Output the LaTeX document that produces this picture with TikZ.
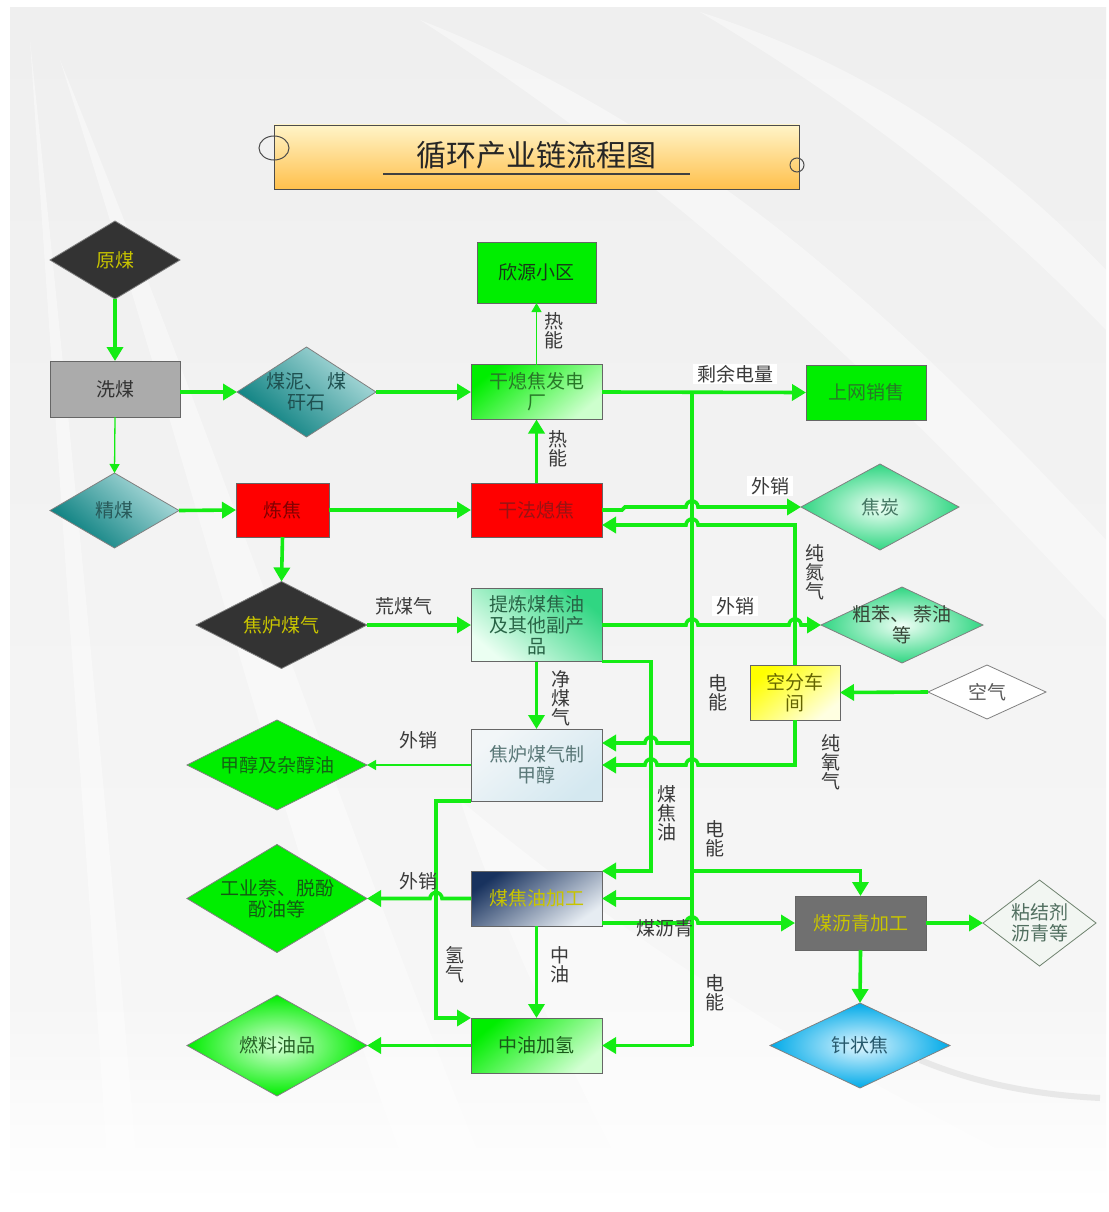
\documentclass[tikz,border=0pt]{standalone}
\usepackage{fontspec}
\newfontfamily\cjk{Noto Sans CJK SC}
\usetikzlibrary{shapes.geometric,arrows.meta,calc}

\definecolor{lgreen}{RGB}{20,236,20}
\definecolor{bggray}{RGB}{239,239,239}
\definecolor{bglight}{RGB}{246,246,246}
\definecolor{darkfill}{RGB}{51,51,51}
\definecolor{goldtext}{RGB}{200,196,0}
\definecolor{tealdark}{RGB}{0,122,122}
\definecolor{teallight}{RGB}{178,222,222}
\definecolor{pure}{RGB}{0,238,0}
\definecolor{mint}{RGB}{48,214,130}
\definecolor{navy}{RGB}{24,50,94}
\definecolor{labeltext}{RGB}{58,58,58}

\newcommand\nodefont{\cjk\fontsize{19}{21}\selectfont}

\tikzset{
  box/.style={rectangle, draw=black!60, line width=0.9pt, inner sep=0pt, outer sep=0pt,
              font=\nodefont, align=center},
  dia/.style={diamond, draw=black!50, line width=0.8pt, inner sep=0pt, outer sep=0pt},
  dtext/.style={font=\nodefont, align=center, inner sep=0pt},
  flow/.style={draw=lgreen, line width=3.6pt, line join=miter,
               -{Triangle[length=14pt,width=16pt]}},
  thinflow/.style={draw=lgreen, line width=1.3pt, -{Triangle[length=9pt,width=10pt]}},
  bus/.style={draw=lgreen, line width=3.6pt},
  lbl/.style={font=\nodefont, text=labeltext, align=center, inner sep=1pt},
  stack/.style={lbl, font=\cjk\fontsize{19}{19}\selectfont},
}

\begin{document}
\begin{tikzpicture}[x=1pt, y=-1pt]
\useasboundingbox (0,0) rectangle (1108,1212);

% ---------- backdrop with soft swooshes ----------
\fill[white] (0,0) rectangle (1108,1212);
\shade[top color=bggray, bottom color=bglight] (10,8) rectangle (1106,1000);
\shade[top color=bglight, bottom color=white] (10,1000) rectangle (1106,1204);
\begin{scope}[white, opacity=0.4]
  \fill (30,40) .. controls (60,500) and (90,900) .. (110,1204) -- (140,1204)
        .. controls (115,900) and (78,500) .. (30,40) -- cycle;
  \fill (60,60) .. controls (200,500) and (300,900) .. (420,1204) -- (500,1204)
        .. controls (370,900) and (240,500) .. (60,60) -- cycle;
  \fill (420,20) .. controls (700,200) and (900,400) .. (1106,620) -- (1106,540)
        .. controls (900,320) and (700,130) .. (420,20) -- cycle;
  \fill (700,12) .. controls (880,120) and (1000,220) .. (1106,330) -- (1106,270)
        .. controls (1000,160) and (880,70) .. (700,12) -- cycle;
  \fill (460,800) .. controls (700,1000) and (900,1100) .. (1106,1204) -- (640,1204)
        .. controls (560,1050) and (500,920) .. (460,800) -- cycle;
\end{scope}
\draw[black!9, line width=6pt] (920,1060) .. controls (980,1085) and (1040,1095) .. (1100,1098);

% ---------- title banner ----------
\node[rectangle, draw=black!70, line width=0.9pt, minimum width=525pt, minimum height=64pt,
      top color={rgb,255:red,255;green,244;blue,200}, bottom color={rgb,255:red,255;green,192;blue,76}]
      (title) at (536.5,157) {};
\node[font=\cjk\fontsize{30}{32}\selectfont, text=black!85] (titletext) at (536.5,155) {循环产业链流程图};
\draw[black!75, line width=1.4pt] (383,174) -- (690,174);
\draw[black!70, line width=1pt] (274,148) ellipse [x radius=15pt, y radius=12pt];
\draw[black!70, line width=1pt] (797,165) circle [radius=7pt];

% ---------- left column ----------
\node[dia, fill=darkfill, minimum width=130pt, minimum height=78pt,
      label={[dtext, text=goldtext]center:原煤}] (yuanmei) at (115,260) {};
\node[box, fill=black!33, text=black!80, minimum width=130pt, minimum height=56pt] (ximei) at (115,389) {洗煤};
\node[dia, top color=teallight, bottom color=tealdark, shading angle=-40,
      minimum width=139pt, minimum height=90pt,
      label={[dtext, text={rgb,255:red,30;green,80;blue,80}]center:煤泥、\,煤\\矸石}] (meini) at (306.5,392) {};
\node[dia, top color=teallight, bottom color=tealdark, shading angle=-40,
      minimum width=129pt, minimum height=75pt,
      label={[dtext, text={rgb,255:red,40;green,90;blue,90}]center:精煤}] (jingmei) at (114.5,510.5) {};
\node[box, fill=red, text={rgb,255:red,130;green,0;blue,0}, minimum width=93pt, minimum height=54pt] (lianjiao) at (282.5,510) {炼焦};
\node[dia, fill=darkfill, minimum width=171pt, minimum height=87pt,
      label={[dtext, text=goldtext]center:焦炉煤气}] (jlmq) at (281.5,625) {};
\node[dia, fill=pure, minimum width=180pt, minimum height=90pt,
      label={[dtext, text={rgb,255:red,20;green,100;blue,20}]center:甲醇及杂醇油}] (jcz) at (277,765) {};
\node[dia, fill=pure, minimum width=180pt, minimum height=108pt,
      label={[dtext, text={rgb,255:red,20;green,90;blue,20}]center:工业萘、脱酚\\酚油等}] (gyn) at (277,898.5) {};
\node[dia, inner color={rgb,255:red,215;green,255;blue,215}, outer color=pure,
      minimum width=180pt, minimum height=101pt,
      label={[dtext, text={rgb,255:red,40;green,100;blue,40}]center:燃料油品}] (rlyp) at (277,1045.5) {};

% ---------- centre column ----------
\node[box, fill=pure, text={rgb,255:red,25;green,55;blue,25}, minimum width=119pt, minimum height=61pt] (xinyuan) at (536.5,272.5) {欣源小区};
\node[box, top color=pure, bottom color={rgb,255:red,205;green,255;blue,205}, shading angle=40,
      text={rgb,255:red,40;green,120;blue,40}, minimum width=131pt, minimum height=55pt] (gxfd) at (536.5,392) {干熄焦发电\\厂};
\node[box, fill=red, text={rgb,255:red,150;green,20;blue,20}, minimum width=131pt, minimum height=54pt] (gfxj) at (536.5,510) {干法熄焦};
\node[box, top color=mint, bottom color={rgb,255:red,235;green,255;blue,242}, shading angle=-40,
      text={rgb,255:red,40;green,100;blue,70}, minimum width=131pt, minimum height=73pt] (tiliang) at (536.5,625) {提炼煤焦油\\及其他副产\\品};
\node[box, top color={rgb,255:red,242;green,246;blue,248}, bottom color={rgb,255:red,212;green,232;blue,240}, shading angle=40,
      text={rgb,255:red,90;green,120;blue,120}, minimum width=131pt, minimum height=72pt] (jiachun) at (536.5,765) {焦炉煤气制\\甲醇};
\node[box, top color=navy, bottom color={rgb,255:red,230;green,236;blue,242}, shading angle=35,
      text=goldtext, minimum width=131pt, minimum height=55pt] (mjyjg) at (536.5,898.5) {煤焦油加工};
\node[box, top color=pure, bottom color={rgb,255:red,210;green,255;blue,210}, shading angle=40,
      text={rgb,255:red,25;green,90;blue,25}, minimum width=131pt, minimum height=55pt] (zyjq) at (536.5,1045.5) {中油加氢};

% ---------- right column ----------
\node[box, fill=pure, text={rgb,255:red,40;green,120;blue,40}, minimum width=120pt, minimum height=55pt] (swxs) at (866,392.5) {上网销售};
\node[dia, inner color={rgb,255:red,240;green,255;blue,246}, outer color=mint,
      minimum width=158pt, minimum height=86pt,
      label={[dtext, text={rgb,255:red,70;green,120;blue,100}]center:焦炭}] (jiaotan) at (880,507) {};
\node[dia, inner color={rgb,255:red,240;green,255;blue,246}, outer color=mint,
      minimum width=162pt, minimum height=76pt,
      label={[dtext, text={rgb,255:red,55;green,70;blue,55}]center:粗苯、\,萘油\\等}] (cuben) at (902,625) {};
\node[box, top color=yellow, bottom color={rgb,255:red,255;green,255;blue,225}, shading angle=40,
      text={rgb,255:red,100;green,100;blue,0}, minimum width=90pt, minimum height=55pt] (kongfen) at (795,692.5) {空分车\\间};
\node[dia, fill=white, minimum width=118pt, minimum height=54pt,
      label={[dtext, text=black!65]center:空气}] (kongqi) at (987,692) {};
\node[box, fill=black!56, text=goldtext, minimum width=131pt, minimum height=54pt] (mlq) at (860.5,923) {煤沥青加工};
\node[dia, fill={rgb,255:red,242;green,246;blue,242}, draw={rgb,255:red,110;green,130;blue,110},
      minimum width=113pt, minimum height=86pt,
      label={[dtext, text={rgb,255:red,80;green,110;blue,95}]center:粘结剂\\沥青等}] (njj) at (1039.5,923) {};
\node[dia, inner color={rgb,255:red,225;green,246;blue,255}, outer color={rgb,255:red,0;green,170;blue,232},
      minimum width=180pt, minimum height=85pt,
      label={[dtext, text={rgb,255:red,40;green,90;blue,110}]center:针状焦}] (zzj) at (860,1045.5) {};

% ---------- taps on the power bus ----------
\coordinate (busTop) at (692,392);
\coordinate (busMeth) at (692,743);
\coordinate (busPitch) at (692,871);
\coordinate (busTar) at (692,898.5);
\coordinate (busBot) at (692,1045.5);

% ---------- connectors ----------
\draw[flow] (yuanmei.south) -- (ximei.north);
\draw[flow] (ximei.east |- meini.west) -- (meini.west);
\draw[thinflow] (ximei.south) -- (jingmei.north);
\draw[flow] (meini.east) -- (gxfd.west);
\draw[thinflow] (gxfd.north) -- (xinyuan.south);
\draw[flow] (gfxj.north) -- (gxfd.south);
\draw[flow] (jingmei.east) -- (lianjiao.west);
\draw[flow] (lianjiao.east) -- (gfxj.west);
\draw[flow] (lianjiao.south) -- (jlmq.north);
\draw[flow] (jlmq.east) -- (tiliang.west);
\draw[flow] (tiliang.south) -- (jiachun.north);
\draw[thinflow] (jiachun.west) -- (jcz.east);
\draw[flow] (jiachun.south west) -- (436,801) |- (zyjq.north west);
\draw[flow] (mjyjg.west) -- (442,898.5) arc[start angle=0, end angle=180, radius=6pt] -- (gyn.east);
\draw[flow] (mjyjg.south) -- (zyjq.north);
\draw[flow] (zyjq.west) -- (rlyp.east);
\draw[flow] (tiliang.south east) -| (651,871) -- (mjyjg.north east);

% power bus and its branches
\draw[flow] (gxfd.east) -- (swxs.west);
\draw[bus] (busTop) -- (busBot);
\draw[flow] (busMeth) -- (657,743) arc[start angle=0, end angle=180, radius=6pt] -- (jiachun.east |- busMeth);
\draw[flow] (busTar) -- (mjyjg.east);
\draw[flow] (busPitch) -| (mlq.north);
\draw[flow] (busBot) -- (zyjq.east);

% products, nitrogen, oxygen
\draw[flow] (gfxj.east) -- (622,510) -- (625,507) -- (686,507)
            arc[start angle=180, end angle=0, radius=6pt] -- (jiaotan.west);
\draw[flow] (kongfen.north) |- (698,525) arc[start angle=0, end angle=180, radius=6pt]
            -- (gfxj.east |- 0,525);
\draw[flow] (tiliang.east) -- (686,625) arc[start angle=180, end angle=0, radius=6pt]
            -- (789,625) arc[start angle=180, end angle=0, radius=6pt] -- (cuben.west);
\draw[flow] (kongqi.west) -- (kongfen.east);
\draw[flow] (kongfen.south) |- (698,765) arc[start angle=0, end angle=180, radius=6pt]
            -- (657,765) arc[start angle=0, end angle=180, radius=6pt] -- (jiachun.east);
\draw[flow] (mjyjg.east |- mlq.west) -- (686,923) arc[start angle=180, end angle=0, radius=6pt] -- (mlq.west);
\draw[flow] (mlq.east) -- (njj.west);
\draw[flow] (mlq.south) -- (zzj.north);

% ---------- connector labels ----------
\node[stack] (lRe1) at (554,331) {热\\能};
\node[stack] (lRe2) at (558,449) {热\\能};
\node[lbl] (lHuang) at (404,606) {荒煤气};
\node[stack] (lJing) at (561,698) {净\\煤\\气};
\node[lbl] (lWx1) at (418,740) {外销};
\node[lbl, fill=white, inner xsep=4pt] (lSy) at (735,374) {剩余电量};
\node[lbl, fill=white, inner xsep=4pt] (lWx2) at (770,486) {外销};
\node[lbl, fill=white, inner xsep=4pt] (lWx3) at (735,606) {外销};
\node[stack] (lN2) at (815,572) {纯\\氮\\气};
\node[stack] (lDn1) at (718,693) {电\\能};
\node[stack] (lO2) at (831,762) {纯\\氧\\气};
\node[stack] (lTar) at (667,813) {煤\\焦\\油};
\node[stack] (lDn2) at (715,839) {电\\能};
\node[lbl] (lWx4) at (418,881) {外销};
\node[lbl] (lPitch) at (665,928) {煤沥青};
\node[stack] (lH2) at (455,965) {氢\\气};
\node[stack] (lZy) at (560,965) {中\\油};
\node[stack] (lDn3) at (715,993) {电\\能};
\end{tikzpicture}
\end{document}
